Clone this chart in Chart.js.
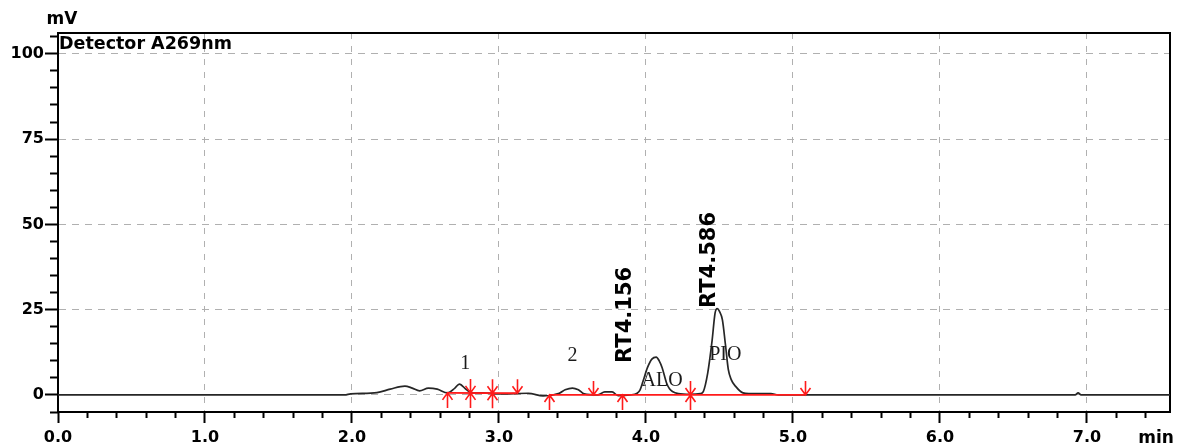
<!DOCTYPE html>
<html>
<head>
<meta charset="utf-8">
<script src="https://cdn.jsdelivr.net/npm/chart.js@4.4.1/dist/chart.umd.min.js"></script>
<style>
  html, body { margin: 0; padding: 0; background: #ffffff; }
  #wrap { width: 1179px; height: 448px; position: relative; }
</style>
</head>
<body>
<div id="wrap"><canvas id="c"></canvas></div>
<script>
// ---- data ----
const timeMin = [0.00, 1.95, 1.99, 2.17, 2.26, 2.36, 2.41, 2.46, 2.52, 2.58, 2.65, 2.70, 2.73, 2.78, 2.82, 2.89,
  3.00, 3.20, 3.30, 3.41, 3.45, 3.50, 3.54, 3.58, 3.67, 3.72, 3.77, 3.81, 3.89, 3.94, 3.96, 3.98, 4.01, 4.04,
  4.07, 4.09, 4.11, 4.14, 4.16, 4.18, 4.22, 4.30, 4.37, 4.39, 4.42, 4.45, 4.47, 4.485, 4.50, 4.52, 4.54, 4.56,
  4.58, 4.61, 4.66, 4.70, 4.85, 4.90, 6.92, 6.94, 6.96, 7.565];
const signalMV = [0.0, 0.0, 0.3, 0.7, 1.7, 2.6, 2.0, 1.2, 2.0, 1.7, 0.6, 2.0, 3.2, 1.5, 0.6, 0.6,
  0.3, 0.5, -0.3, 0.5, 1.5, 2.0, 1.5, 0.3, 0.0, 0.9, 0.9, -0.2, 0.0, 0.5, 1.5, 4.0, 8.0, 10.5,
  11.1, 10.0, 8.0, 3.5, 1.8, 1.0, 0.4, 0.2, 0.4, 1.0, 6.4, 16.0, 24.0, 25.3, 24.5, 22.0, 15.0, 7.5,
  4.5, 2.5, 0.6, 0.4, 0.4, 0.0, 0.0, 0.6, 0.0, 0.0];

// integration baselines (red)
const baseStartT = [2.646, 3.34];
const baseStartMV = [0.6, 0.0];
const baseEndT = [3.12, 5.08];
const baseEndMV = [0.5, 0.0];

// peak start / end markers
const eventTimes = [2.646, 2.80, 2.95, 3.12, 3.34, 3.64, 3.84, 4.30, 5.08];
const eventLevelMV = [0.6, 0.6, 0.5, 0.5, 0.0, 0.0, 0.0, 0.0, 0.0];
const eventKinds = ['up', 'both', 'both', 'down', 'up', 'down', 'up', 'both', 'down'];

// peak labels
const peakLabelText = ['1', '2', 'ALO', 'PIO'];
const peakLabelT = [2.77, 3.50, 4.11, 4.54];
const peakLabelMV = [9.1, 11.4, 4.1, 11.7];
const rtLabelText = ['RT4.156', 'RT4.586'];
const rtLabelT = [3.864, 4.43];
const rtLabelMV = [9.4, 25.5];

// axes
const xMajorTicks = [0, 1, 2, 3, 4, 5, 6, 7];
const xMinorTicks = [0.2, 0.4, 0.6, 0.8, 1.2, 1.4, 1.6, 1.8, 2.2, 2.4, 2.6, 2.8, 3.2, 3.4, 3.6, 3.8,
  4.2, 4.4, 4.6, 4.8, 5.2, 5.4, 5.6, 5.8, 6.2, 6.4, 6.6, 6.8, 7.2, 7.4];
const yMajorTicks = [0, 25, 50, 75, 100];
const yMinorTicks = [-5, 5, 10, 15, 20, 30, 35, 40, 45, 55, 60, 65, 70, 80, 85, 90, 95, 105];
const X_MIN = 0, X_MAX = 7.565, Y_MIN = -5, Y_MAX = 106.1;

// ---- chart ----
const tickFont = { family: 'DejaVu Sans', weight: 'bold', size: 16 };
const gridGray = '#b0b0b0';

const overlay = {
  id: 'overlay',
  afterDatasetsDraw(chart) {
    const { ctx, chartArea: a, scales } = chart;
    const sx = scales.x, sy = scales.y;
    ctx.save();
    // markers
    ctx.strokeStyle = '#ff1a1a';
    ctx.lineWidth = 1.6;
    eventTimes.forEach((t, i) => {
      const px = Math.round(sx.getPixelForValue(t)) + 0.5;
      const py = sy.getPixelForValue(eventLevelMV[i]);
      const k = eventKinds[i];
      ctx.beginPath();
      if (k === 'down' || k === 'both') {
        ctx.moveTo(px, py - 14); ctx.lineTo(px, py);
        ctx.moveTo(px - 5, py - 7); ctx.lineTo(px, py); ctx.lineTo(px + 5, py - 7);
      }
      if (k === 'up' || k === 'both') {
        ctx.moveTo(px, py + 15); ctx.lineTo(px, py);
        ctx.moveTo(px - 5, py + 7); ctx.lineTo(px, py); ctx.lineTo(px + 5, py + 7);
      }
      ctx.stroke();
    });
    // peak labels
    ctx.fillStyle = '#1a1a1a';
    ctx.font = '20px "Liberation Serif"';
    ctx.textAlign = 'center';
    ctx.textBaseline = 'middle';
    peakLabelText.forEach((s, i) => {
      ctx.fillText(s, sx.getPixelForValue(peakLabelT[i]), sy.getPixelForValue(peakLabelMV[i]));
    });
    // retention time labels (vertical)
    ctx.fillStyle = '#000';
    ctx.font = 'bold 21px "DejaVu Sans"';
    ctx.textAlign = 'left';
    rtLabelText.forEach((s, i) => {
      ctx.save();
      ctx.translate(sx.getPixelForValue(rtLabelT[i]), sy.getPixelForValue(rtLabelMV[i]));
      ctx.rotate(-Math.PI / 2);
      ctx.fillText(s, 0, 0);
      ctx.restore();
    });
    // axis units and detector text
    ctx.font = 'bold 17px "DejaVu Sans"';
    ctx.textAlign = 'center';
    ctx.fillText('mV', a.left + 4, a.top - 13);
    ctx.fillText('min', a.right - 14, a.bottom + 27);
    ctx.textAlign = 'left';
    ctx.font = 'bold 17.5px "DejaVu Sans"';
    ctx.fillText('Detector A269nm', a.left + 1, a.top + 11);
    ctx.restore();
  }
};

const toPoints = (xs, ys) => xs.map((v, i) => ({ x: v, y: ys[i] }));

const datasets = [{
  label: 'Detector A269nm',
  data: toPoints(timeMin, signalMV),
  borderColor: '#262626',
  borderWidth: 1.7,
  pointRadius: 0,
  cubicInterpolationMode: 'monotone',
  order: 2
}];
baseStartT.forEach((t, i) => {
  datasets.push({
    label: 'baseline ' + (i + 1),
    data: [{ x: t, y: baseStartMV[i] }, { x: baseEndT[i], y: baseEndMV[i] }],
    borderColor: '#ff1a1a',
    borderWidth: 1.8,
    pointRadius: 0,
    order: 1
  });
});

const setTicks = list => scale => { scale.ticks = list.map(v => ({ value: v })); };

new Chart(document.getElementById('c'), {
  type: 'line',
  data: { datasets },
  options: {
    responsive: true,
    maintainAspectRatio: false,
    animation: false,
    events: [],
    layout: { padding: { left: 0, right: 9, top: 33, bottom: 0 } },
    plugins: { legend: { display: false }, tooltip: { enabled: false }, title: { display: false } },
    scales: {
      x: {
        type: 'linear', position: 'bottom', min: X_MIN, max: X_MAX, weight: 1,
        afterBuildTicks: setTicks(xMajorTicks),
        afterFit: s => { s.height = 36; },
        grid: {
          color: c => (c.tick && c.tick.value === 0) ? 'rgba(0,0,0,0)' : gridGray,
          lineWidth: 1, drawTicks: true, tickLength: 11, tickColor: '#000', tickWidth: 2
        },
        border: { display: true, color: '#000', width: 2, dash: [6, 7] },
        ticks: { color: '#000', font: tickFont, padding: 5, maxRotation: 0, autoSkip: false,
          callback: v => Number(v).toFixed(1) }
      },
      xMinor: {
        type: 'linear', position: 'bottom', min: X_MIN, max: X_MAX, weight: 0,
        afterBuildTicks: setTicks(xMinorTicks),
        afterFit: s => { s.height = 0; },
        grid: { drawOnChartArea: false, drawTicks: true, tickLength: 6, tickColor: '#000', tickWidth: 2 },
        border: { display: false },
        ticks: { display: false }
      },
      xTop: {
        type: 'linear', position: 'top', min: X_MIN, max: X_MAX,
        afterFit: s => { s.height = 0; },
        grid: { display: false },
        border: { display: true, color: '#000', width: 2 },
        ticks: { display: false }
      },
      y: {
        type: 'linear', position: 'left', min: Y_MIN, max: Y_MAX, weight: 1,
        afterBuildTicks: setTicks(yMajorTicks),
        afterFit: s => { s.width = 58; },
        grid: { color: gridGray, lineWidth: 1, drawTicks: true, tickLength: 13, tickColor: '#000', tickWidth: 2 },
        border: { display: true, color: '#000', width: 2, dash: [7, 6] },
        ticks: { color: '#000', font: tickFont, padding: 1, callback: v => String(v) }
      },
      yMinor: {
        type: 'linear', position: 'left', min: Y_MIN, max: Y_MAX, weight: 0,
        afterBuildTicks: setTicks(yMinorTicks),
        afterFit: s => { s.width = 0; },
        grid: { drawOnChartArea: false, drawTicks: true, tickLength: 8, tickColor: '#000', tickWidth: 2 },
        border: { display: false },
        ticks: { display: false }
      },
      yRight: {
        type: 'linear', position: 'right', min: Y_MIN, max: Y_MAX,
        afterFit: s => { s.width = 0; },
        grid: { display: false },
        border: { display: true, color: '#000', width: 2 },
        ticks: { display: false }
      }
    }
  },
  plugins: [overlay]
});
</script>
</body>
</html>
